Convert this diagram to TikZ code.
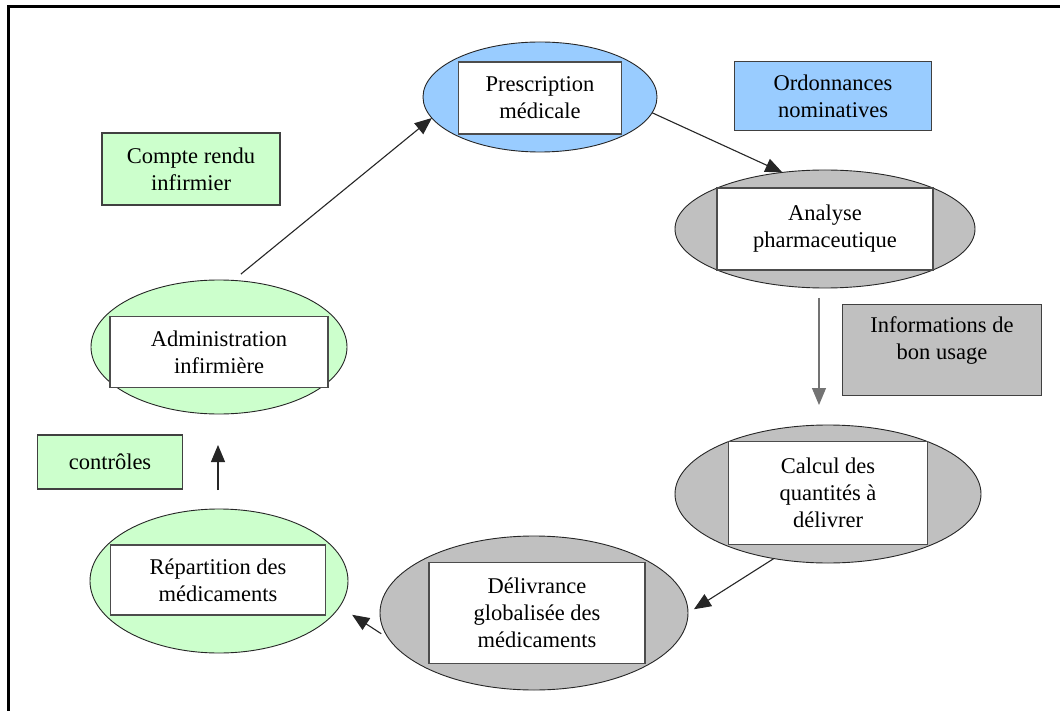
\documentclass[tikz,border=0pt]{standalone}
\usepackage{fontspec}
\setmainfont{DejaVu Serif}
\newfontfamily\tnr{Liberation Serif}[Scale=1.0]
\usetikzlibrary{shapes.geometric,arrows.meta}
\definecolor{cblue}{HTML}{99CCFF}
\definecolor{cgreen}{HTML}{CCFFCC}
\definecolor{cgray}{HTML}{C0C0C0}
\begin{document}
\begin{tikzpicture}[x=1pt,y=-1pt,
 txt/.style={font=\rmfamily\tnr\fontsize{22.5}{27}\selectfont},
 ell/.style={ellipse,draw=black!85,line width=0.9pt,inner sep=0pt,outer sep=0pt},
 inbox/.style={rectangle,draw=black!70,line width=1.3pt,fill=white,inner sep=0pt,align=center,txt},
 note/.style={rectangle,draw=black!75,line width=1.2pt,inner sep=0pt,align=center,txt},
 arr/.style={line width=1.1pt,draw=black!85,-{Triangle[length=17pt,width=14pt]}}]
\useasboundingbox (0,0) rectangle (1060,711);
\fill[white] (0,0) rectangle (1060,711);
% frame
\draw[line width=3pt] (8,711) -- (8,7) -- (1060,7);
% ellipses
\node[ell,fill=cblue,minimum width=234,minimum height=110] (presc) at (540,97) {};
\node[inbox,minimum width=163,minimum height=72] (prescT) at (540,98) {Prescription\\médicale};
\node[ell,fill=cgray,minimum width=300,minimum height=118] (ana) at (825,229) {};
\node[inbox,minimum width=216,minimum height=82] (anaT) at (825,229) {Analyse\\pharmaceutique};
\node[ell,fill=cgray,minimum width=306,minimum height=138] (calc) at (828,494) {};
\node[inbox,minimum width=199,minimum height=103] (calcT) at (828,493) {Calcul des\\quantités à\\délivrer};
\node[ell,fill=cgray,minimum width=308,minimum height=154] (deliv) at (534,613) {};
\node[inbox,minimum width=216,minimum height=101] (delivT) at (537,613) {Délivrance\\globalisée des\\médicaments};
\node[ell,fill=cgreen,minimum width=258,minimum height=144] (rep) at (219,581) {};
\node[inbox,minimum width=215,minimum height=70] (repT) at (218,580) {Répartition des\\médicaments};
\node[ell,fill=cgreen,minimum width=256,minimum height=134] (adm) at (219,347) {};
\node[inbox,minimum width=218,minimum height=71] (admT) at (219,352) {Administration\\infirmière};
% notes
\node[note,fill=cblue,minimum width=197,minimum height=69] (ord) at (833,96) {Ordonnances\\nominatives};
\node[note,fill=cgreen,minimum width=178,minimum height=72] (cr) at (191,169) {Compte rendu\\infirmier};
\node[note,fill=cgray,minimum width=199,minimum height=91] (info) at (942,350) {};
\node[align=center,txt,inner sep=0pt] (infoT) at (942,341) {Informations de\\bon usage};
\node[note,fill=cgreen,minimum width=145,minimum height=54] (ctrl) at (110,462) {contrôles};
% arrows
\draw[arr,shorten <=10pt] (adm.78) -- (presc.191);
\draw[arr] (presc.-8) -- (ana.127);
\draw[arr,draw=black!55,shorten <=10pt,shorten >=20pt] ([xshift=-6pt]ana.south) -- ([xshift=-9pt]calc.north);
\draw[arr,shorten >=7pt] (calc.230) -- (deliv.east);
\draw[arr,shorten <=9pt,shorten >=15pt] (deliv.190) -- (rep.-12);
\draw[arr,shorten <=19pt,shorten >=31pt] ([xshift=-1pt]rep.north) -- ([xshift=-1pt]adm.south);
\end{tikzpicture}
\end{document}
